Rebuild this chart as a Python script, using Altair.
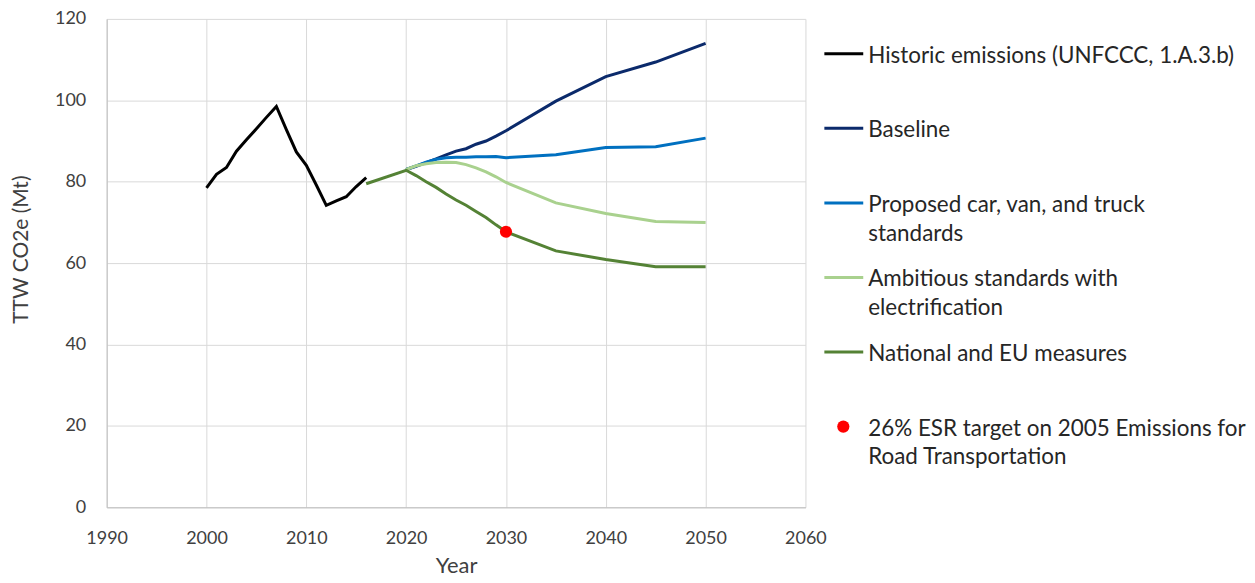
import altair as alt
import pandas as pd

# ---------------- data ----------------
hist_years = list(range(2000, 2017))
hist_vals = [78.5, 81.8, 83.5, 87.5, 90.3, 93.0, 95.8, 98.5, 92.8, 87.3,
             84.0, 79.2, 74.2, 75.3, 76.3, 78.8, 81.0]

proj_years = [2020, 2021, 2022, 2023, 2024, 2025, 2026, 2027, 2028, 2029,
              2030, 2035, 2040, 2045, 2050]
baseline = [83.0, 83.8, 84.7, 85.6, 86.6, 87.5, 88.1, 89.2, 90.0, 91.2,
            92.5, 99.8, 105.8, 109.4, 114.0]
proposed = [83.0, 83.9, 84.8, 85.5, 85.9, 86.0, 86.0, 86.1, 86.1, 86.2,
            85.9, 86.6, 88.4, 88.6, 90.7]
ambitious = [83.0, 83.9, 84.4, 84.7, 84.8, 84.7, 84.2, 83.4, 82.4, 81.2,
             79.8, 74.8, 72.2, 70.2, 70.0]
national_years = [2016] + proj_years
national = [79.5, 82.8, 81.5, 80.0, 78.6, 77.0, 75.5, 74.2, 72.7, 71.2, 69.4,
            67.7, 63.0, 60.9, 59.1, 59.1]

target_year = [2030]
target_val = [67.7]

series_names = [
    "Historic emissions (UNFCCC, 1.A.3.b)",
    "Baseline",
    "Proposed car, van, and truck standards",
    "Ambitious standards with electrification",
    "National and EU measures",
    "26% ESR target on 2005 Emissions for Road Transportation",
]
legend_labels = [
    "Historic emissions (UNFCCC, 1.A.3.b)",
    "Baseline",
    "Proposed car, van, and truck\nstandards",
    "Ambitious standards with\nelectrification",
    "National and EU measures",
    "26% ESR target on 2005 Emissions for\nRoad Transportation",
]
series_colors = ["#000000", "#0b2a6b", "#0070c0", "#a9d18e", "#548235", "#ff0000"]

x_ticks = [1990, 2000, 2010, 2020, 2030, 2040, 2050, 2060]
y_ticks = [0, 20, 40, 60, 80, 100, 120]

# ---------------- tables ----------------
rows = []
for y, v in zip(hist_years, hist_vals):
    rows.append({"year": y, "value": v, "series": series_names[0]})
for name, vals in [(series_names[1], baseline), (series_names[2], proposed),
                   (series_names[3], ambitious)]:
    for y, v in zip(proj_years, vals):
        rows.append({"year": y, "value": v, "series": name})
for y, v in zip(national_years, national):
    rows.append({"year": y, "value": v, "series": series_names[4]})
lines_df = pd.DataFrame(rows)

target_df = pd.DataFrame({"year": target_year, "value": target_val,
                          "series": [series_names[5]]})

legend_df = pd.DataFrame({"idx": list(range(len(series_names))),
                          "series": series_names,
                          "label": legend_labels})

FONT = "Lato"
color_scale = alt.Scale(domain=series_names, range=series_colors)

x_scale = alt.Scale(domain=[1990, 2060], nice=False)
y_scale = alt.Scale(domain=[0, 120], nice=False)

x_enc = alt.X("year:Q", scale=x_scale,
              axis=alt.Axis(values=x_ticks, format="d", title="Year",
                            labelPadding=22, titlePadding=8, titleFontSize=22))
y_enc = alt.Y("value:Q", scale=y_scale,
              axis=alt.Axis(values=y_ticks, title="TTW CO2e (Mt)",
                            labelPadding=21, titlePadding=23, titleFontSize=21,
                            titleY=231))

lines = alt.Chart(lines_df).mark_line(strokeWidth=3).encode(
    x=x_enc, y=y_enc,
    color=alt.Color("series:N", scale=color_scale, legend=None),
)
target = alt.Chart(target_df).mark_circle(size=150, opacity=1).encode(
    x=x_enc,
    y=alt.Y("value:Q", scale=y_scale, axis=None),
    color=alt.Color("series:N", scale=color_scale, legend=None),
)

leg_y = alt.Y("idx:Q", scale=alt.Scale(domain=[0, 5], range=[35, 409]), axis=None)

leg_rules = alt.Chart(legend_df).transform_filter("datum.idx < 5").mark_rule(
    strokeWidth=3).encode(
    x=alt.value(720), x2=alt.value(759), y=leg_y,
    color=alt.Color("series:N", scale=color_scale, legend=None),
)
leg_dot = alt.Chart(legend_df).transform_filter("datum.idx == 5").mark_circle(
    size=150, opacity=1).encode(
    x=alt.value(739), y=leg_y,
    color=alt.Color("series:N", scale=color_scale, legend=None),
)
leg_text = alt.Chart(legend_df).mark_text(
    align="left", baseline="top", dy=-9, lineBreak="\n", lineHeight=29,
    fontSize=22.5, font=FONT, color="#262626").encode(
    x=alt.value(764), y=leg_y, text="label:N",
)

chart = alt.layer(lines, target, leg_rules, leg_dot, leg_text).resolve_scale(
    y="independent"
).properties(
    width=701, height=490,
    padding={"left": 2, "top": 1, "right": 0, "bottom": 0},
).configure_view(
    stroke=None
).configure_axis(
    labelFont=FONT, titleFont=FONT, labelFontSize=18,
    titleFontWeight="normal", labelColor="#404040", titleColor="#404040",
    grid=True, gridColor="#d9d9d9", gridWidth=1, ticks=False, labelFlush=False,
    domainColor="#bfbfbf", domainWidth=1,
)

chart.save("out.html", embed_options={"renderer": "svg", "actions": False})
